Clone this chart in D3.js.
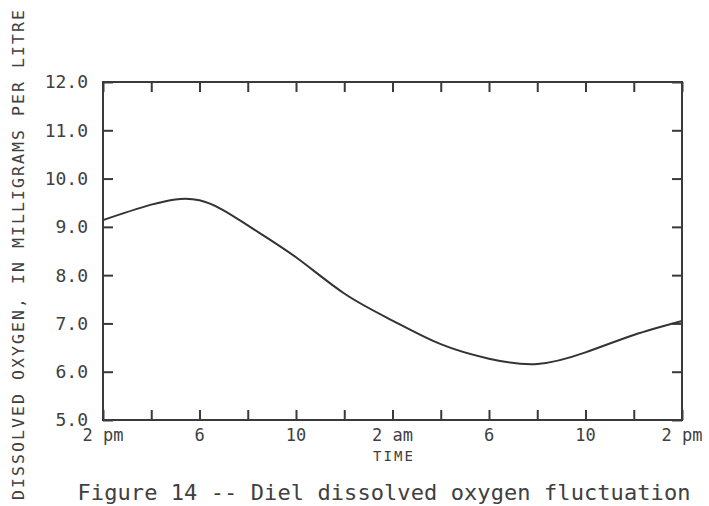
<!DOCTYPE html>
<html>
<head>
<meta charset="utf-8">
<script src="https://cdn.jsdelivr.net/npm/d3@7"></script>
<style>
  html, body { margin: 0; padding: 0; background: #fff; }
  svg { display: block; }
  text { font-family: "DejaVu Sans Mono", "Liberation Mono", monospace; fill: #404040; }
</style>
</head>
<body>
<svg id="chart" width="709" height="506"></svg>
<script>
// Hours elapsed since 2 pm, and dissolved oxygen (mg/L)
const hours  = [0, 2, 4, 6, 8, 10, 12, 14, 16, 18, 20, 22, 24];
const oxygen = [9.14, 9.46, 9.55, 9.03, 8.37, 7.62, 7.06, 6.57, 6.27, 6.16, 6.40, 6.76, 7.05];

// Axis ticks and labels
const xTicks = [0, 2, 4, 6, 8, 10, 12, 14, 16, 18, 20, 22, 24];
const xLabels = [
  { h: 0,  text: "2 pm" },
  { h: 4,  text: "6" },
  { h: 8,  text: "10" },
  { h: 12, text: "2 am" },
  { h: 16, text: "6" },
  { h: 20, text: "10" },
  { h: 24, text: "2 pm" }
];
const yTicks = [5, 6, 7, 8, 9, 10, 11, 12];

const svg = d3.select("#chart");
const plotLeft = 103, plotRight = 682, plotTop = 82, plotBottom = 420;

const x = d3.scaleLinear().domain([0, 24]).range([plotLeft, plotRight]);
const y = d3.scaleLinear().domain([5, 12]).range([plotBottom, plotTop]);

const ink = "#3a3a3a";
const tickLen = 10;

// Frame
svg.append("rect")
  .attr("x", plotLeft).attr("y", plotTop)
  .attr("width", plotRight - plotLeft).attr("height", plotBottom - plotTop)
  .attr("fill", "none").attr("stroke", ink).attr("stroke-width", 2);

// Inward ticks on all four sides
const axisB = d3.axisBottom(x).tickValues(xTicks).tickSize(-tickLen).tickFormat("");
const axisT = d3.axisTop(x).tickValues(xTicks).tickSize(-tickLen).tickFormat("");
const axisL = d3.axisLeft(y).tickValues(yTicks).tickSize(-tickLen).tickFormat("");
const axisR = d3.axisRight(y).tickValues(yTicks).tickSize(-tickLen).tickFormat("");

function styleAxis(g) {
  g.select(".domain").remove();
  g.selectAll(".tick line").attr("stroke", ink).attr("stroke-width", 2);
}
svg.append("g").attr("transform", `translate(0,${plotBottom})`).call(axisB).call(styleAxis);
svg.append("g").attr("transform", `translate(0,${plotTop})`).call(axisT).call(styleAxis);
svg.append("g").attr("transform", `translate(${plotLeft},0)`).call(axisL).call(styleAxis);
svg.append("g").attr("transform", `translate(${plotRight},0)`).call(axisR).call(styleAxis);

// Y tick labels
svg.append("g").selectAll("text")
  .data(yTicks)
  .join("text")
  .attr("x", 88)
  .attr("y", d => y(d))
  .attr("dy", "0.36em")
  .attr("text-anchor", "end")
  .attr("font-size", 18)
  .text(d => d.toFixed(1));

// X tick labels
svg.append("g").selectAll("text")
  .data(xLabels)
  .join("text")
  .attr("x", d => x(d.h))
  .attr("y", 441)
  .attr("text-anchor", "middle")
  .attr("font-size", 17)
  .text(d => d.text);

// Axis titles
svg.append("text")
  .attr("x", 393).attr("y", 461)
  .attr("text-anchor", "middle")
  .attr("font-size", 14)
  .attr("textLength", 40)
  .attr("lengthAdjust", "spacing")
  .text("TIME");

svg.append("text")
  .attr("transform", "translate(24,255) rotate(-90)")
  .attr("text-anchor", "middle")
  .attr("font-size", 16.5)
  .attr("textLength", 490)
  .attr("lengthAdjust", "spacing")
  .text("DISSOLVED OXYGEN, IN MILLIGRAMS PER LITRE");

// Caption
svg.append("text")
  .attr("x", 384).attr("y", 500)
  .attr("text-anchor", "middle")
  .attr("font-size", 22)
  .attr("textLength", 613)
  .attr("lengthAdjust", "spacing")
  .text("Figure 14 -- Diel dissolved oxygen fluctuation");

// Oxygen curve
const line = d3.line()
  .x((d, i) => x(hours[i]))
  .y(d => y(d))
  .curve(d3.curveNatural);

svg.append("path")
  .datum(oxygen)
  .attr("d", line)
  .attr("fill", "none")
  .attr("stroke", "#333")
  .attr("stroke-width", 2);
</script>
</body>
</html>
